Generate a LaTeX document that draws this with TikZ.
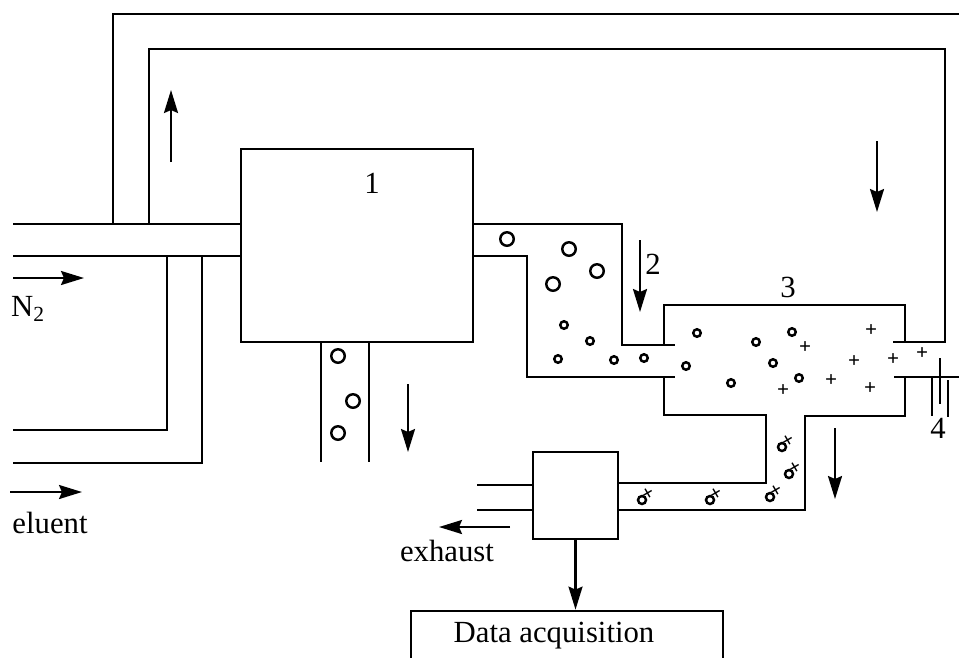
\documentclass[tikz,border=0pt]{standalone}
\usepackage{fontspec}
\setmainfont{Liberation Serif}
\usepackage{tikz}
\usetikzlibrary{arrows.meta,calc,positioning}

\begin{document}
\begin{tikzpicture}[x=0.02cm,y=-0.02cm,line width=1.6pt,
  lbl/.style={font=\fontsize{17.5}{20}\selectfont,inner sep=0pt},
  unit/.style={draw,fill=white,inner sep=0pt,minimum width=#1},
  flow/.style={-{Stealth[length=0.46cm,width=0.28cm,inset=0.06cm]},line width=1.3pt},
  drop/.style={draw,circle,inner sep=0pt,line width=1.4pt,minimum size=#1},
  ionp/.style={font=\bfseries\fontsize{#1}{#1}\selectfont,inner sep=0pt}]
  \path[use as bounding box,clip] (0,0) rectangle (959,657);
  % tubes
  \draw (13,224) -- (241,224);
  \draw (13,256) -- (241,256);
  \draw (113,224) |- (959,14);
  \draw (149,224) |- (945,49) |- (893,342);
  \draw (167,256) |- (13,430);
  \draw (202,256) |- (13,463);
  \draw (321,342) -- (321,462);
  \draw (369,342) -- (369,462);
  \draw (473,224) -| (622,345) -- (675,345);
  \draw (473,256) -| (527,377) -- (675,377);
  % chamber
  \draw (664,345) |- (905,305) -- (905,342);
  \draw (664,377) |- (766,415) |- (618,483);
  \draw (905,377) |- (805,416) |- (618,510);
  \draw (894,377) -- (959,377);
  \draw (932,378) -- (932,416);
  \draw (940,358) -- (940,404);
  \draw (948,380) -- (948,417);
  \draw (477,485) -- (533,485);
  \draw (477,510) -- (533,510);
  % units
  \node[unit=4.64cm,minimum height=3.86cm] (neb) at (357,245.5) {};
  \node[unit=1.7cm,minimum height=1.74cm] (adc) at (575.5,495.5) {};
  \node[unit=6.24cm,minimum height=1.6cm] (daq) at (567,651) {};
  \draw[flow] (adc.south) -- (adc.south |- daq.north);
  % flow directions
  \draw[flow] (171,162) -- (171,90);
  \draw[flow] (877,141) -- (877,212);
  \draw[flow] (640,240) -- (640,312);
  \draw[flow] (408,384) -- (408,452);
  \draw[flow] (835,428) -- (835,499);
  \draw[flow] (510,527) -- (439,527);
  \draw[flow] (13,278) -- (84,278);
  \draw[flow] (10,492) -- (82,492);
  % labels
  \node[lbl] (n1) at (372,183) {1};
  \node[lbl] (n2) at (653,264) {2};
  \node[lbl] (n3) at (788,287) {3};
  \node[lbl] (n4) at (938,428) {4};
  \node[lbl] (nit) at (28,309) {N\textsubscript{2}};
  \node[lbl] (elu) at (50,523) {eluent};
  \node[lbl] (exh) at (447,551) {exhaust};
  \node[lbl] (acq) at (554,636) {Data acquisition};
  % droplets and ions
  \foreach \x/\y [count=\i] in {507/239,569/249,597/271,553/284,338/356,353/401,338/433}
    \node[drop=0.27cm] (big\i) at (\x,\y) {};
  \foreach \x/\y [count=\i] in {564/325,590/341,558/359,614/360,644/358,697/333,756/342,792/332,773/363,686/366,799/378,731/383}
    \node[drop=0.15cm] (sm\i) at (\x,\y) {};
  \foreach \x/\y [count=\i] in {871/331,805/348,854/362,893/360,922/354,831/381,870/389,783/391}
    \node[ionp=12] (pl\i) at (\x,\y) {+};
  \foreach \x/\y [count=\i] in {783/445,790/472,771/495,643/498,711/498}{
    \node[drop=0.16cm] (ic\i) at (\x-1,\y+2) {};
    \node[ionp=12,rotate=30] (ip\i) at (\x+5,\y-4) {+};
  }
\end{tikzpicture}
\end{document}
